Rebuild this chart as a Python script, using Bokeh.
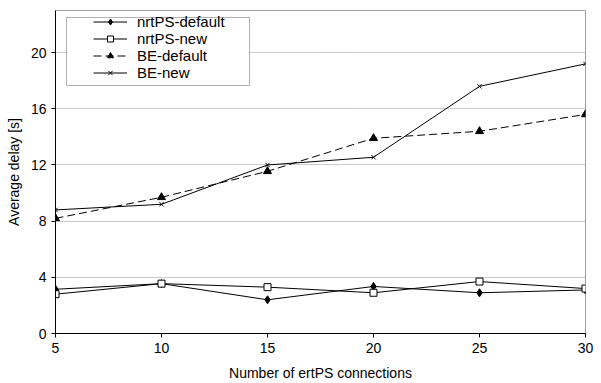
from bokeh.plotting import figure
from bokeh.models import Range1d, FixedTicker, Legend, LegendItem, BoxAnnotation
from bokeh.embed import file_html
from bokeh.resources import INLINE

connections = [5, 10, 15, 20, 25, 30]
nrtps_default = [3.15, 3.55, 2.4, 3.35, 2.9, 3.1]
nrtps_new = [2.8, 3.55, 3.3, 2.9, 3.7, 3.2]
be_default = [8.2, 9.7, 11.55, 13.9, 14.4, 15.6]
be_new = [8.8, 9.2, 12.0, 12.55, 17.6, 19.2]
x_ticks = [5, 10, 15, 20, 25, 30]
y_ticks = [0, 4, 8, 12, 16, 20]

FONT = "Liberation Sans"

p = figure(width=601, height=383, output_backend="svg", toolbar_location=None,
           x_range=Range1d(5, 30), y_range=Range1d(0, 23),
           min_border_left=55, min_border_right=16, min_border_top=10, min_border_bottom=50)

p.background_fill_color = "white"
p.border_fill_color = "white"
p.outline_line_color = "#a0a0a0"
p.outline_line_width = 1

p.xgrid.visible = False
p.ygrid.grid_line_color = "#999999"
p.ygrid.grid_line_dash = "1 1"
p.ygrid.grid_line_width = 1

for ax in (p.xaxis[0], p.yaxis[0]):
    ax.axis_line_color = "black"
    ax.major_tick_line_color = "black"
    ax.minor_tick_line_color = None
    ax.major_tick_out = 4
    ax.major_tick_in = 0
    ax.major_label_text_font = FONT
    ax.major_label_text_font_size = "14px"
    ax.major_label_text_color = "black"
    ax.axis_label_text_font = FONT
    ax.axis_label_text_font_size = "14px"
    ax.axis_label_text_font_style = "normal"
    ax.axis_label_text_color = "black"

p.xaxis.ticker = FixedTicker(ticks=x_ticks)
p.yaxis.ticker = FixedTicker(ticks=y_ticks)
p.xaxis.axis_label = "Number of ertPS connections"
p.yaxis.axis_label = "Average delay [s]"
p.xaxis.major_label_standoff = 5
p.xaxis.axis_label_standoff = 9
p.yaxis.major_label_standoff = 5
p.yaxis.axis_label_standoff = 6

l1 = p.line(connections, nrtps_default, line_color="black", line_width=1)
m1 = p.scatter(connections, nrtps_default, marker="diamond", size=8,
               fill_color="black", line_color="black")
l2 = p.line(connections, nrtps_new, line_color="black", line_width=1)
m2 = p.scatter(connections, nrtps_new, marker="square", size=7,
               fill_color="white", line_color="black")
l3 = p.line(connections, be_default, line_color="black", line_width=1, line_dash="8 4")
m3 = p.scatter(connections, be_default, marker="triangle", size=8,
               fill_color="black", line_color="black")
l4 = p.line(connections, be_new, line_color="black", line_width=1)
m4 = p.scatter(connections, be_new, marker="x", size=6, line_color="black")

box = BoxAnnotation(left=66, right=249, top=17, bottom=85,
                    left_units="canvas", right_units="canvas",
                    top_units="canvas", bottom_units="canvas",
                    fill_color="white", fill_alpha=1.0,
                    line_color="black", line_width=1)
p.add_layout(box)

legend = Legend(items=[
    LegendItem(label="nrtPS-default", renderers=[l1, m1]),
    LegendItem(label="nrtPS-new", renderers=[l2, m2]),
    LegendItem(label="BE-default", renderers=[l3, m3]),
    LegendItem(label="BE-new", renderers=[l4, m4]),
], location=(38, 252), border_line_alpha=0, background_fill_alpha=0,
    padding=0, spacing=0, margin=0, glyph_width=34, glyph_height=15,
    label_height=15, label_standoff=10, label_text_font=FONT,
    label_text_font_size="15px", label_text_color="black")
p.add_layout(legend, "center")

open("out.html", "w").write(file_html(p, INLINE))
